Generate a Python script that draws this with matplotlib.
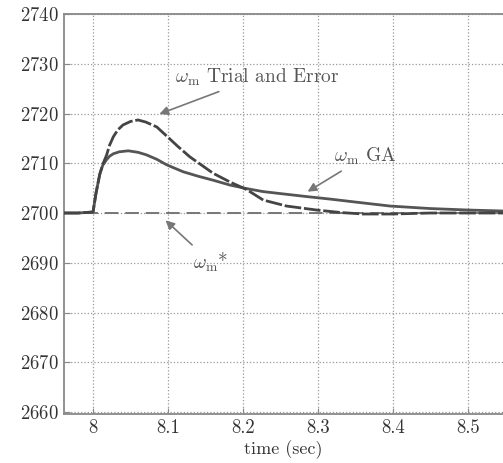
import matplotlib
matplotlib.use("Agg")
import matplotlib.pyplot as plt

plt.rcParams['font.family'] = ['cmr10', 'DejaVu Serif']
plt.rcParams['mathtext.fontset'] = 'cm'
plt.rcParams['axes.formatter.use_mathtext'] = True

# time axis for the GA response
t_ga = [7.961, 7.98, 8.0, 8.004, 8.009, 8.013, 8.018, 8.022, 8.027, 8.035, 8.047,
        8.06, 8.071, 8.085, 8.098, 8.12, 8.14, 8.16, 8.183, 8.205, 8.227, 8.25,
        8.285, 8.316, 8.35, 8.396, 8.449, 8.5, 8.547]
w_ga = [2700.0, 2700.0, 2700.2, 2704.0, 2707.8, 2709.6, 2710.7, 2711.4, 2711.9, 2712.3, 2712.5,
        2712.2, 2711.7, 2710.8, 2709.7, 2708.3, 2707.4, 2706.6, 2705.6, 2704.9, 2704.3, 2703.9,
        2703.3, 2702.8, 2702.2, 2701.4, 2700.9, 2700.6, 2700.4]

# time axis for the Trial and Error response
t_te = [7.961, 7.98, 8.0, 8.004, 8.009, 8.013, 8.018, 8.022, 8.027, 8.033, 8.04,
        8.05, 8.06, 8.07, 8.085, 8.098, 8.113, 8.129, 8.145, 8.16, 8.183, 8.205,
        8.227, 8.258, 8.298, 8.33, 8.36, 8.4, 8.45, 8.5, 8.547]
w_te = [2700.0, 2700.0, 2700.2, 2704.0, 2707.8, 2709.8, 2711.6, 2713.6, 2715.3, 2716.7, 2717.7,
        2718.4, 2718.7, 2718.3, 2717.3, 2715.5, 2713.4, 2711.3, 2709.6, 2708.0, 2706.2, 2704.7,
        2702.6, 2701.4, 2700.6, 2700.1, 2699.8, 2699.8, 2700.0, 2700.0, 2700.0]

w_ref = 2700.0

xticks = [8.0, 8.1, 8.2, 8.3, 8.4, 8.5]
xticklabels = ['8', '8.1', '8.2', '8.3', '8.4', '8.5']
yticks = [2660, 2670, 2680, 2690, 2700, 2710, 2720, 2730, 2740]

fig = plt.figure(figsize=(5.03, 4.63), dpi=100)
ax = fig.add_axes([64/503, 1 - 414/463, 1 - 64/503, 400/463])

ax.axhline(w_ref, color='#777777', lw=1.4, dashes=(7, 3.5), zorder=2)
ax.plot(t_ga, w_ga, color='#555555', lw=2.0, zorder=3)
ax.plot(t_te, w_te, color='#444444', lw=2.0, dashes=(6, 1.0), zorder=4)

ax.set_xlim(7.9613, 8.5467)
ax.set_ylim(2659.6, 2740)
ax.set_xticks(xticks)
ax.set_xticklabels(xticklabels)
ax.set_yticks(yticks)
ax.grid(True, color='#999999', linestyle=':', linewidth=0.9)
ax.tick_params(direction='in', length=4, colors='#888888', labelcolor='#333333',
               labelsize=13.5, pad=4)
for s in ['left', 'bottom', 'top']:
    ax.spines[s].set_color('#888888')
    ax.spines[s].set_linewidth(1.3)
ax.spines['right'].set_visible(False)

ax.set_xlabel('time (sec)', fontsize=13, color='#333333', labelpad=2)

tc = '#555555'
ap = dict(arrowstyle='-|>', color='#777777', lw=1.2, mutation_scale=13)
ax.annotate(r'$\omega_{\rm m}$ Trial and Error', xy=(8.085, 2719.7), xytext=(8.109, 2727.3),
            fontsize=14, color=tc, ha='left', va='center', arrowprops=ap)
ax.annotate(r'$\omega_{\rm m}$ GA', xy=(8.283, 2704.0), xytext=(8.322, 2711.4),
            fontsize=14, color=tc, ha='left', va='center', arrowprops=ap)
ax.annotate(r'$\omega_{\rm m}$*', xy=(8.094, 2698.9), xytext=(8.133, 2690.2),
            fontsize=14, color=tc, ha='left', va='center', arrowprops=ap)

fig.savefig('out.png', dpi=100)
